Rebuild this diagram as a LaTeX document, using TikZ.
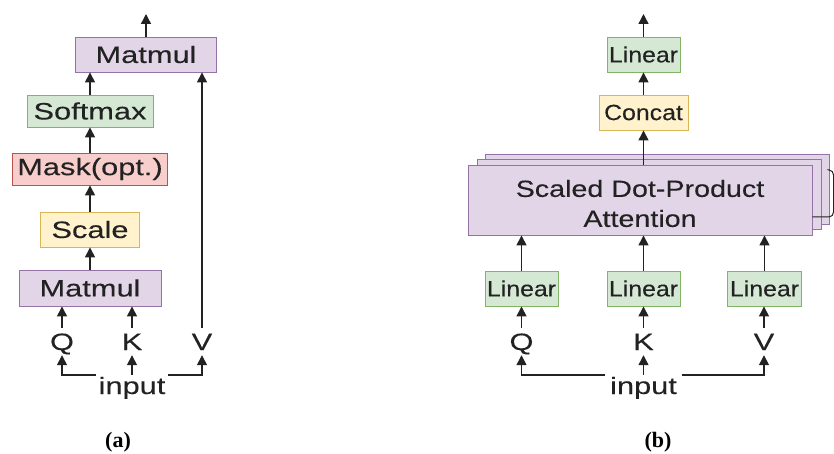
\documentclass[tikz,border=0pt]{standalone}
\usepackage{fontspec}
\usetikzlibrary{arrows.meta}
\newfontfamily\diaA{Liberation Sans}[FakeStretch=1.3, FakeBold=0.15]
\newfontfamily\diaB{Liberation Sans}[FakeStretch=1.22, FakeBold=0.15]
\newfontfamily\diaC{Liberation Sans}[FakeStretch=1.13, FakeBold=0.15]
\newfontfamily\capfont{Liberation Serif}
\definecolor{txt}{HTML}{222222}
\definecolor{lnc}{HTML}{222222}
\definecolor{pfill}{HTML}{E1D5E7}\definecolor{pdraw}{HTML}{9673A6}
\definecolor{gfill}{HTML}{D5E8D4}\definecolor{gdraw}{HTML}{82B366}
\definecolor{rfill}{HTML}{F8CECC}\definecolor{rdraw}{HTML}{B85450}
\definecolor{yfill}{HTML}{FFF2CC}\definecolor{ydraw}{HTML}{D6B656}
\tikzset{
  box/.style={draw, line width=0.9pt, inner sep=0pt, text=txt},
  pbox/.style={box, fill=pfill, draw=pdraw},
  gbox/.style={box, fill=gfill, draw=gdraw},
  rbox/.style={box, fill=rfill, draw=rdraw},
  ybox/.style={box, fill=yfill, draw=ydraw},
  bigfont/.style={font=\diaA\fontsize{23.7}{28}\selectfont},
  midfont/.style={font=\diaB\fontsize{23.5}{30}\selectfont},
  smallfont/.style={font=\diaC\fontsize{22}{26}\selectfont},
  qkv/.style={bigfont, text=txt, text height=17pt, text depth=0pt, inner xsep=2pt, inner ysep=5pt, anchor=base},
  inp/.style={bigfont, text=txt, text height=16pt, text depth=0pt, inner ysep=3pt, anchor=base},
  arr/.style={-{Triangle[length=10pt,width=10pt]}, line width=1.4pt, draw=lnc},
  caption/.style={font=\capfont\bfseries\fontsize{22}{26}\selectfont, text=black}
}
\begin{document}
\begin{tikzpicture}[x=1pt, y=-1pt]
\useasboundingbox (0,0) rectangle (834,454);

% ---------- (a) scaled dot-product attention ----------
\node[pbox, bigfont, minimum width=141pt, minimum height=35pt] (mmT) at (146,54.5) {Matmul};
\node[gbox, bigfont, minimum width=126pt, minimum height=32pt] (soft) at (90,111) {Softmax};
\node[rbox, bigfont, minimum width=155pt, minimum height=32pt] (mask) at (90,169) {Mask(opt.)};
\node[ybox, bigfont, minimum width=99pt, minimum height=35pt] (scale) at (90,229.5) {Scale};
\node[pbox, bigfont, minimum width=142pt, minimum height=36pt] (mmB) at (90,288) {Matmul};

\node[qkv] (Qa) at (62,350) {Q};
\node[qkv] (Ka) at (132,350) {K};
\node[qkv] (Va) at (202,350) {V};
\node[inp, inner xsep=2.5pt] (inA) at (132,394) {input};
\coordinate (outA) at (146,14);

\draw[arr] (mmT.north) -- (outA);
\draw[arr] (soft.north) -- (soft.north |- mmT.south);
\draw[arr] (mask.north -| soft.north) -- (soft.south);
\draw[arr] (scale.north -| soft.north) -- (mask.south -| soft.north);
\draw[arr] (mmB.north -| soft.north) -- (scale.south -| soft.north);
\draw[arr] (Qa.north) -- (Qa.north |- mmB.south);
\draw[arr] (Ka.north) -- (Ka.north |- mmB.south);
\draw[arr] (Va.north) -- (Va.north |- mmT.south);
\draw[arr] (inA.north west) -| (Qa.south);
\draw[arr] (inA.north) -- (Ka.south);
\draw[arr] (inA.north east) -| (Va.south);

% ---------- (b) multi-head attention ----------
\node[gbox, smallfont, minimum width=73pt, minimum height=35pt] (linT) at (643.5,54.5) {Linear};
\node[ybox, smallfont, minimum width=89pt, minimum height=35pt] (concat) at (643.5,112.5) {Concat};

\node[pbox, minimum width=344pt, minimum height=70pt] (attBack) at (657.5,189.5) {};
\node[pbox, minimum width=344pt, minimum height=70pt] (attMid) at (649,194.5) {};
\node[pbox, minimum width=344pt, minimum height=70pt] (att) at (640,200) {};
\node[midfont, text=txt, align=center] (attText) at (640,203.5) {Scaled Dot-Product\\Attention};

% brace on the right of the stack
\draw[lnc, line width=1pt] (attBack.east |- 0,170) -- (829,170) to[out=0,in=90] (833.5,175)
  -- (833.5,212) to[out=-90,in=0] (829,217) -- (att.east |- 0,217);

\node[gbox, smallfont, minimum width=73pt, minimum height=35pt] (lin1) at (521.5,288.5) {Linear};
\node[gbox, smallfont, minimum width=73pt, minimum height=35pt] (lin2) at (643.5,288.5) {Linear};
\node[gbox, smallfont, minimum width=74pt, minimum height=35pt] (lin3) at (764.5,288.5) {Linear};

\node[qkv] (Qb) at (521.5,350) {Q};
\node[qkv] (Kb) at (643.5,350) {K};
\node[qkv] (Vb) at (764,350) {V};
\node[inp, inner xsep=5pt] (inB) at (643.5,394) {input};
\coordinate (outB) at (643.5,14);

\draw[arr] (linT.north) -- (outB);
\draw[arr] (concat.north) -- (linT.south);
\draw[arr] (att.north -| concat.north) -- (concat.south);
\draw[arr] (lin1.north) -- (lin1.north |- att.south);
\draw[arr] (lin2.north) -- (lin2.north |- att.south);
\draw[arr] (lin3.north) -- (lin3.north |- att.south);
\draw[arr] (Qb.north) -- (lin1.south);
\draw[arr] (Kb.north) -- (lin2.south);
\draw[arr] (Vb.north) -- (Vb.north |- lin3.south);
\draw[arr] (inB.north west) -| (Qb.south);
\draw[arr] (inB.north) -- (Kb.south);
\draw[arr] (inB.north east) -| (Vb.south);

% ---------- captions ----------
\node[caption] (capA) at (118,442) {(a)};
\node[caption] (capB) at (658,442) {(b)};
\end{tikzpicture}
\end{document}
